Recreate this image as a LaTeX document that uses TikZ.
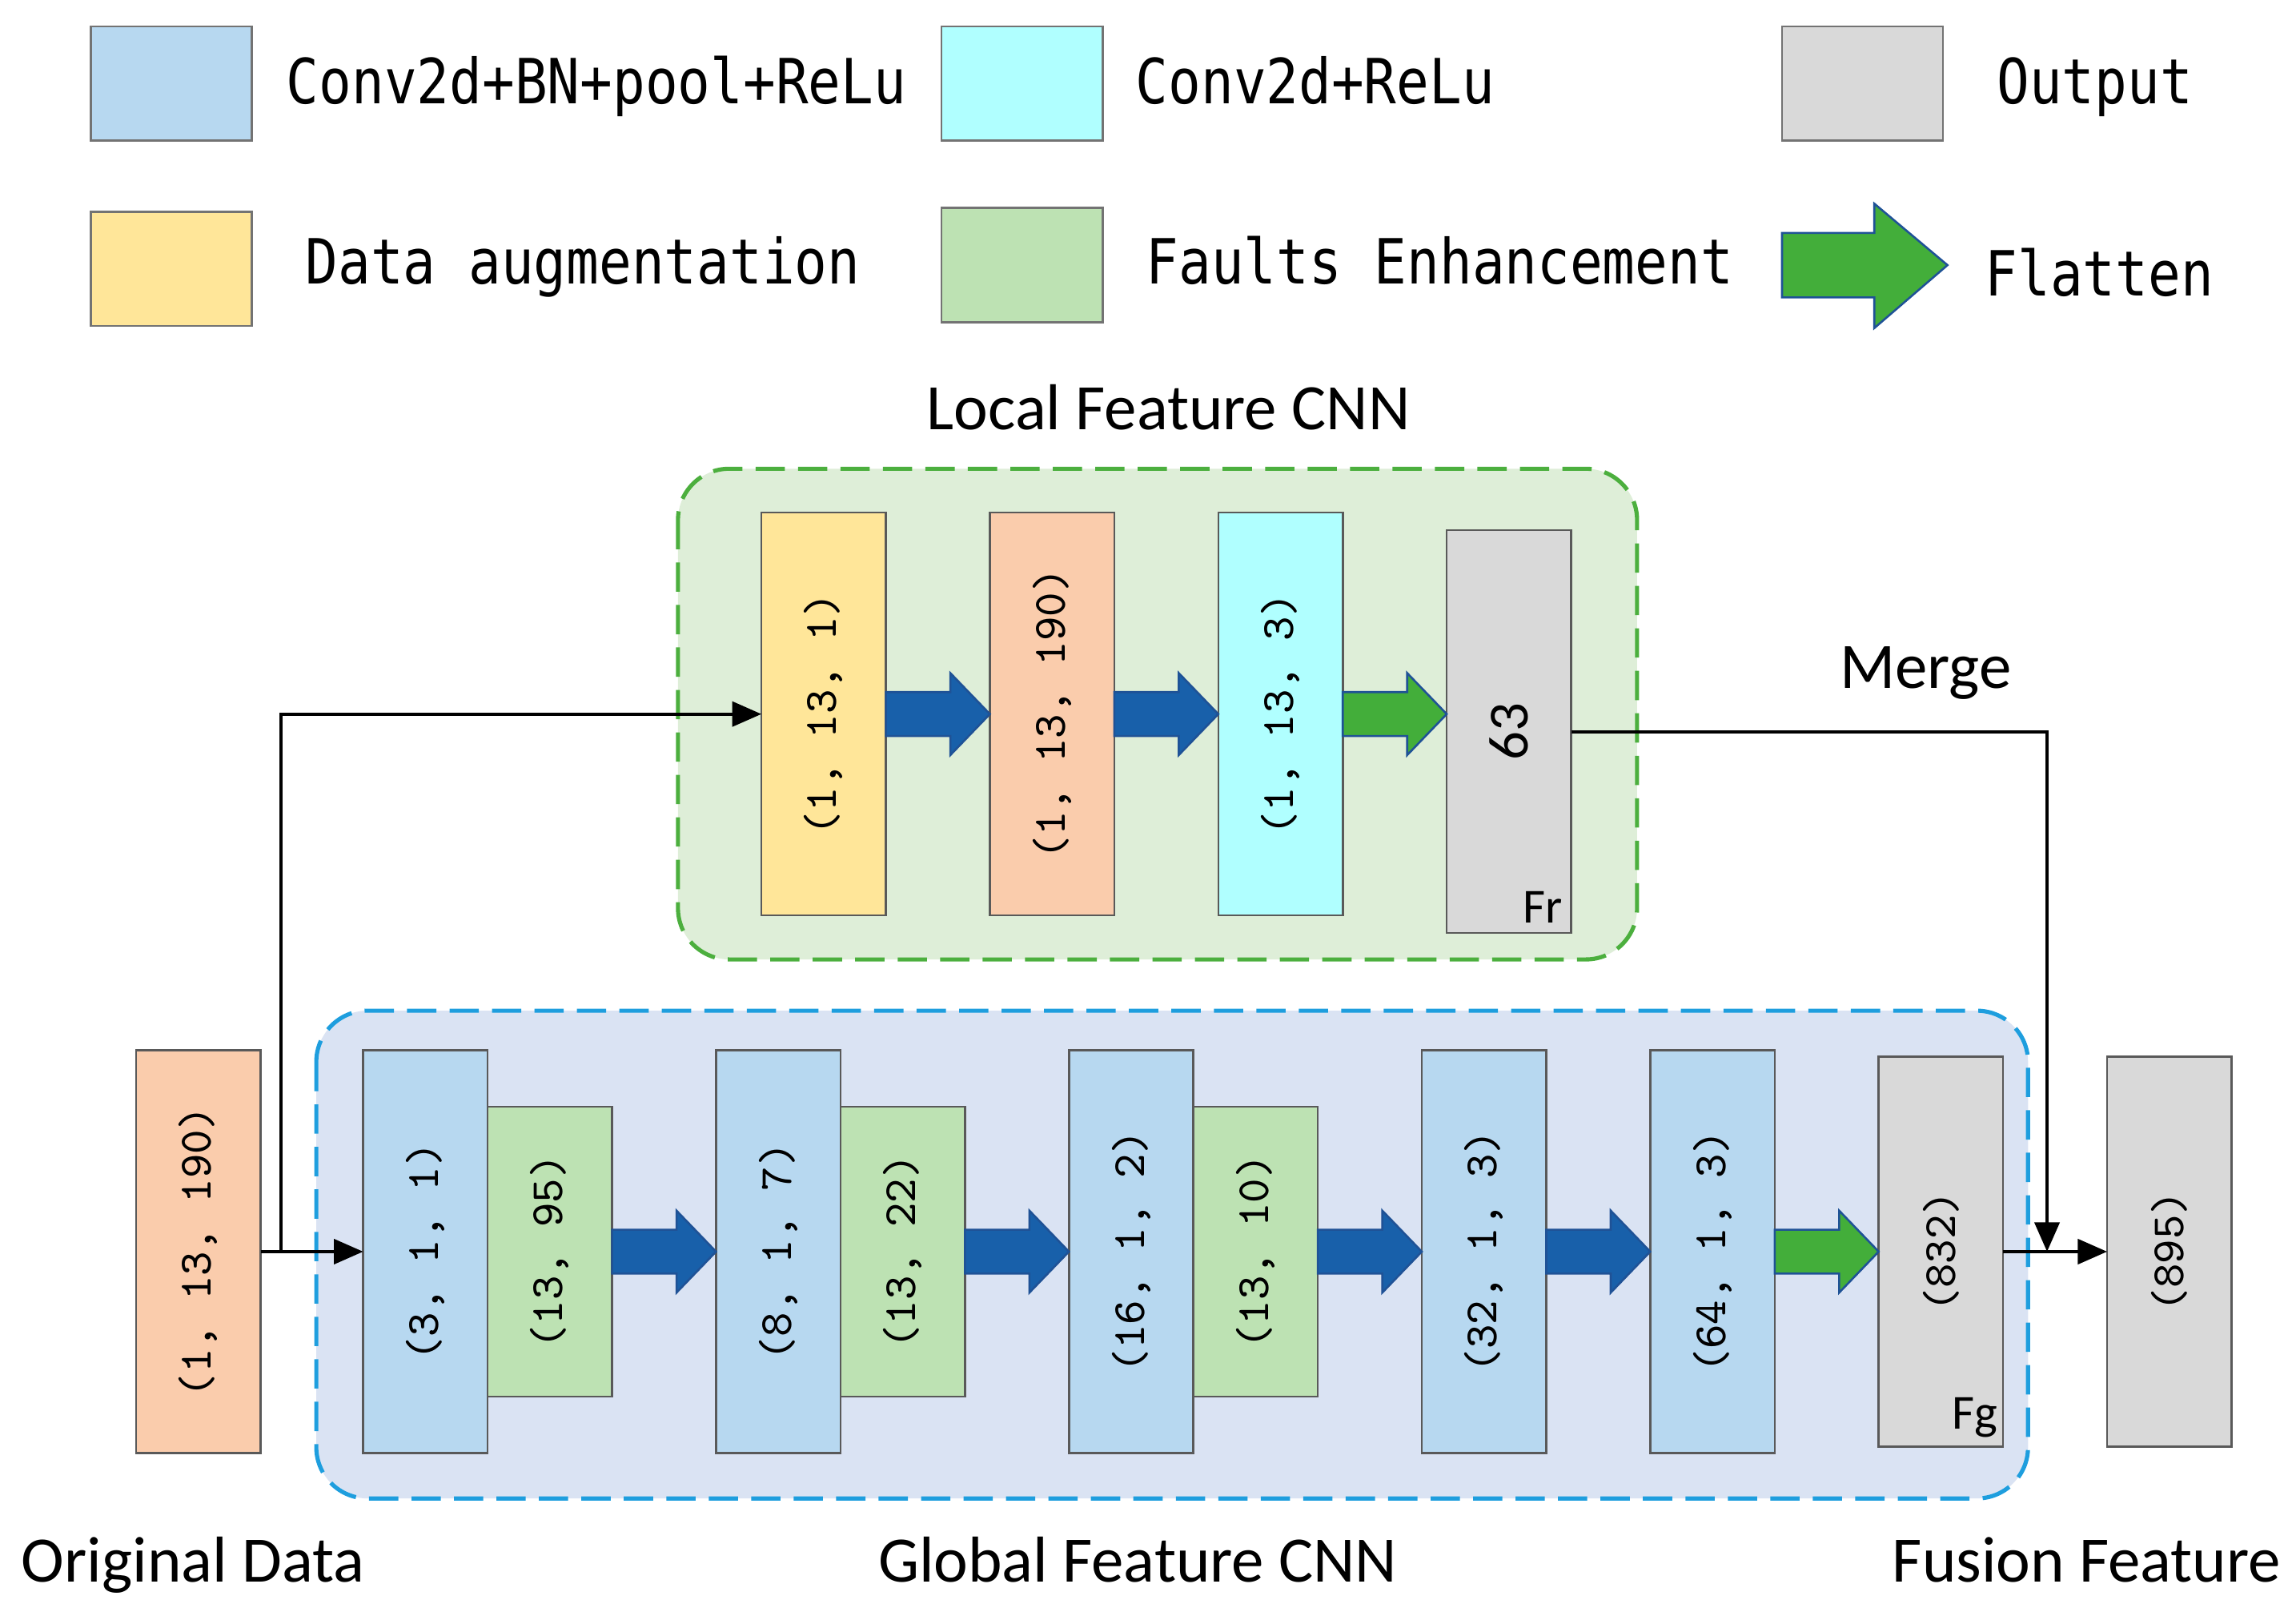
\documentclass[tikz,border=0pt]{standalone}
\usepackage{fontspec}
\setmainfont{Carlito}
\newfontfamily\legfont[FakeStretch=0.87]{DejaVu Sans Mono}
\usetikzlibrary{positioning, arrows.meta, calc}

\definecolor{convblue}{RGB}{183,216,240}
\definecolor{relucyan}{RGB}{176,255,255}
\definecolor{outgrey}{RGB}{217,217,217}
\definecolor{augyellow}{RGB}{255,230,153}
\definecolor{faultgreen}{RGB}{189,226,179}
\definecolor{salmon}{RGB}{250,204,172}
\definecolor{localbg}{RGB}{222,238,216}
\definecolor{localedge}{RGB}{76,175,62}
\definecolor{globalbg}{RGB}{218,227,243}
\definecolor{globaledge}{RGB}{30,158,222}
\definecolor{arrowblue}{RGB}{24,96,170}
\definecolor{arrowgreen}{RGB}{67,174,58}
\definecolor{arrowedge}{RGB}{31,82,150}

\newcommand{\dims}[1]{\rotatebox{90}{\ttfamily\fontsize{9}{11}\selectfont #1}}
% block arrow between two layers
\newcommand{\blockflow}[3]{%
  \filldraw[#1] let \p1=(#2.east), \p2=(#3.west) in
    (\x1,\y1-1.5mm) -- (\x2-2.7mm,\y1-1.5mm) -- (\x2-2.7mm,\y1-2.8mm) -- (\x2,\y1)
    -- (\x2-2.7mm,\y1+2.8mm) -- (\x2-2.7mm,\y1+1.5mm) -- (\x1,\y1+1.5mm) -- cycle;}

\begin{document}
\begin{tikzpicture}[x=0.1mm, y=-0.1mm,
     node distance = 7.1mm and 7.1mm,
        box/.style = {rectangle, draw=black!65, line width=0.4pt, minimum width=8.5mm, minimum height=27.5mm, inner sep=0pt, outer sep=0pt},
       fbox/.style = {box, fill=faultgreen, minimum height=19.8mm},
       obox/.style = {box, fill=outgrey, minimum height=26.6mm},
       lbox/.style = {rectangle, draw=black!55, line width=0.4pt, minimum width=11mm, minimum height=7.8mm, inner sep=0pt, outer sep=0pt},
      ltext/.style = {inner sep=0pt, anchor=base west, font=\legfont\fontsize{12.1}{14}\selectfont},
      title/.style = {inner sep=0pt, font=\fontsize{12.6}{15}\selectfont},
       flow/.style = {-{Triangle[length=2mm, width=1.7mm]}, line width=0.6pt},
  bluearrow/.style = {fill=arrowblue, draw=arrowedge, line width=0.4pt},
 greenarrow/.style = {fill=arrowgreen, draw=arrowedge, line width=0.4pt},
 localframe/.style = {draw=localedge, fill=localbg, dash pattern=on 2mm off 0.9mm, line width=0.8pt, rounded corners=3.5mm},
globalframe/.style = {draw=globaledge, fill=globalbg, dash pattern=on 2mm off 0.9mm, line width=0.8pt, rounded corners=3.5mm}
                        ]
\useasboundingbox (0,0) rectangle (1568,1092);

% legend
\node (lconv)  [lbox, fill=convblue]   at (117,57) {};
\node (tconv)  [ltext] at (195,71) {Conv2d+BN+pool+ReLu};
\node (lrelu)  [lbox, fill=relucyan]   at (698,57) {};
\node (trelu)  [ltext] at (775,71) {Conv2d+ReLu};
\node (lout)   [lbox, fill=outgrey]    at (1272,57) {};
\node (tout)   [ltext] at (1363,71) {Output};
\node (laug)   [lbox, fill=augyellow]  at (117,183.5) {};
\node (taug)   [ltext] at (208,194) {Data augmentation};
\node (lfault) [lbox, fill=faultgreen] at (698,181) {};
\node (tfault) [ltext] at (782,194) {Faults Enhancement};
\filldraw[greenarrow] (1217,159) -- (1280,159) -- (1280,139) -- (1330,181)
    -- (1280,224) -- (1280,203) -- (1217,203) -- cycle;
\node (tflat)  [ltext] at (1355,202) {Flatten};

% frames
\draw[localframe]  (463,320) rectangle (1118,655);
\draw[globalframe] (216,690) rectangle (1385,1023);

% local feature CNN
\node (aug)  [box, fill=augyellow] at (562.5,487.5) {\dims{(1, 13, 1)}};
\node (raw)  [box, fill=salmon,   right=of aug]  {\dims{(1, 13, 190)}};
\node (relu) [box, fill=relucyan, right=of raw]  {\dims{(1, 13, 3)}};
\node (fr)   [box, fill=outgrey,  right=of relu, yshift=-1.2mm] {\rotatebox{90}{\fontsize{11}{13}\selectfont 63}};
\node (frlabel) [anchor=base east, inner sep=0pt, font=\fontsize{9.5}{11}\selectfont] at ([shift={(-0.5mm,0.7mm)}]fr.south east) {Fr};

% global feature CNN
\node (orig) [box, fill=salmon]   at (135.5,854.5) {\dims{(1, 13, 190)}};
\node (c1) [box, fill=convblue]   at (290.5,854.5) {\dims{(3, 1, 1)}};
\node (e1) [fbox, right=0pt of c1] {\dims{(13, 95)}};
\node (c2) [box, fill=convblue, right=of e1] {\dims{(8, 1, 7)}};
\node (e2) [fbox, right=0pt of c2] {\dims{(13, 22)}};
\node (c3) [box, fill=convblue, right=of e2] {\dims{(16, 1, 2)}};
\node (e3) [fbox, right=0pt of c3] {\dims{(13, 10)}};
\node (c4) [box, fill=convblue, right=of e3] {\dims{(32, 1, 3)}};
\node (c5) [box, fill=convblue, right=of c4] {\dims{(64, 1, 3)}};
\node (fg) [obox, right=of c5] {\dims{(832)}};
\node (fusion) [obox, right=of fg] {\dims{(895)}};
\node (fglabel) [anchor=base east, inner sep=0pt, font=\fontsize{9.5}{11}\selectfont] at ([shift={(-0.3mm,1.2mm)}]fg.south east) {Fg};

% titles
\node (localtitle)  [title] at (798,278) {Local Feature CNN};
\node (mergetitle)  [title, anchor=base] at (1315,470) {Merge};
\node (origtitle)   [title, anchor=base west] at (14,1080) {Original Data};
\node (globaltitle) [title, anchor=base] at (777,1080) {Global Feature CNN};
\node (fusiontitle) [title, anchor=base] at (1425,1080) {Fusion Feature};

% block arrows
\blockflow{bluearrow}{aug}{raw}
\blockflow{bluearrow}{raw}{relu}
\blockflow{greenarrow}{relu}{fr}
\blockflow{bluearrow}{e1}{c2}
\blockflow{bluearrow}{e2}{c3}
\blockflow{bluearrow}{e3}{c4}
\blockflow{bluearrow}{c4}{c5}
\blockflow{greenarrow}{c5}{fg}

% data flow
\coordinate (split) at ([xshift=1.4mm]orig.east);
\coordinate (join)  at ([xshift=3mm]fg.east);
\draw[flow] (orig) -- (c1);
\draw[flow] (split) |- (aug);
\draw[flow] (fg) -- (fusion);
\draw[flow] (fr) -| (join);
\end{tikzpicture}
\end{document}
